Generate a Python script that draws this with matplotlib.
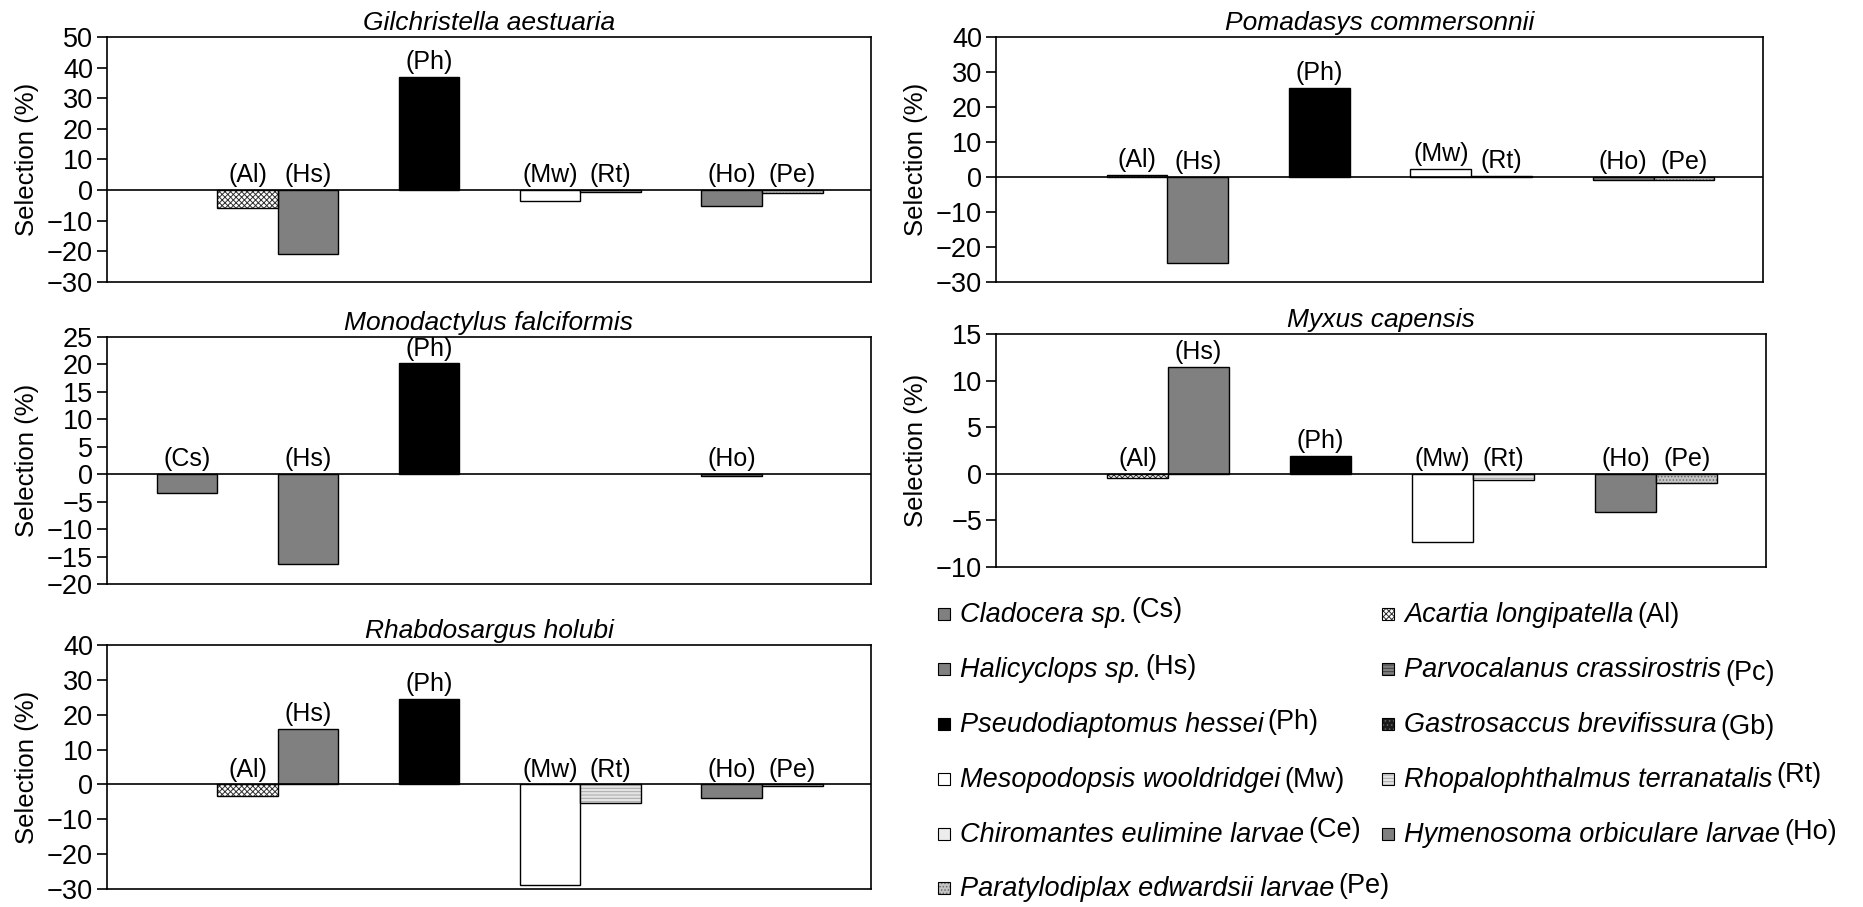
import numpy as np
import matplotlib
matplotlib.use("Agg")
import matplotlib.pyplot as plt
from matplotlib.patches import Rectangle

plt.rcParams["font.family"] = ["Liberation Sans", "DejaVu Sans"]
plt.rcParams["hatch.linewidth"] = 0.7

# ---- data -------------------------------------------------------------
codes = ["Cs", "Al", "Hs", "Pc", "Ph", "Gb", "Mw", "Rt", "Ce", "Ho", "Pe"]
species = [
    "Cladocera sp.", "Acartia longipatella", "Halicyclops sp.",
    "Parvocalanus crassirostris", "Pseudodiaptomus hessei",
    "Gastrosaccus brevifissura", "Mesopodopsis wooldridgei",
    "Rhopalophthalmus terranatalis", "Chiromantes eulimine larvae",
    "Hymenosoma orbiculare larvae", "Paratylodiplax edwardsii larvae",
]

nan = np.nan
gilchristella = [nan, -5.8, -20.7, nan, 37.1, nan, -3.7, -0.6, nan, -5.2, -1.1]
monodactylus = [-3.5, nan, -16.4, nan, 20.2, nan, nan, nan, nan, -0.3, nan]
rhabdosargus = [nan, -3.2, 16.0, nan, 24.6, nan, -28.8, -5.2, nan, -3.9, -0.4]
pomadasys = [nan, 0.5, -24.5, nan, 25.4, nan, 2.3, 0.4, nan, -1.0, -1.0]
myxus = [nan, -0.4, 11.5, nan, 1.9, nan, -7.3, -0.7, nan, -4.1, -1.0]

# ---- styling per prey item ----------------------------------------------
face = ["#808080", "white", "#808080", "#808080", "black", "#1a1a1a",
        "white", "#e4e4e4", "#ececec", "#808080", "#c4c4c4"]
hatch = [None, "xxxxxx", None, "-----", None, "....", None, "-----",
         None, None, "....."]
hatch_col = [None, "#303030", None, "#404040", None, "#606060", None,
             "#a8a8a8", None, None, "#6a6a6a"]

W, H = 1863, 907
fig = plt.figure(figsize=(W / 100, H / 100), dpi=100)


def px_axes(left, top, right, bottom):
    return fig.add_axes([left / W, 1 - bottom / H, (right - left) / W,
                         (bottom - top) / H])


def panel(box, title, values, ylim, step):
    ax = px_axes(*box)
    x = np.arange(len(codes))
    for i, v in enumerate(values):
        if np.isnan(v):
            continue
        if hatch[i]:
            ax.bar(x[i], v, width=1.0, color=face[i], hatch=hatch[i],
                   edgecolor=hatch_col[i], linewidth=0, zorder=2)
            ax.bar(x[i], v, width=1.0, facecolor="none", edgecolor="black",
                   linewidth=1.0, zorder=3)
        else:
            ax.bar(x[i], v, width=1.0, color=face[i], edgecolor="black",
                   linewidth=1.0, zorder=2)
        ax.annotate(f"({codes[i]})", xy=(x[i], max(v, 0)), xytext=(0, 2),
                    textcoords="offset points", ha="center", va="bottom",
                    fontsize=18)
    ax.axhline(0, color="black", linewidth=1.2, zorder=4)
    ax.set_xlim(-1.32, 11.3)
    ax.set_ylim(*ylim)
    ax.set_yticks(np.arange(ylim[0], ylim[1] + step / 2, step))
    ax.set_xticks([])
    ax.tick_params(axis="y", direction="out", length=7, width=1.2,
                   labelsize=19.5, pad=3)
    for s in ax.spines.values():
        s.set_linewidth(1.2)
    ax.set_title(title, fontsize=19, style="italic", pad=5)
    ax.set_ylabel("Selection (%)", fontsize=18.5)
    ax.yaxis.set_label_coords(-68 / (box[2] - box[0]), 0.5)
    return ax


panel((107, 37, 871, 282), "Gilchristella aestuaria", gilchristella, (-30, 50), 10)
panel((107, 337, 871, 584), "Monodactylus falciformis", monodactylus, (-20, 25), 5)
panel((107, 645, 871, 889), "Rhabdosargus holubi", rhabdosargus, (-30, 40), 10)
panel((996, 37, 1763, 282), "Pomadasys commersonnii", pomadasys, (-30, 40), 10)
panel((996, 334, 1766, 567), "Myxus capensis", myxus, (-10, 15), 5)

# ---- key: two columns, filled row by row ------------------------------
col_x = [938, 1382]
row_base = [622, 677, 732, 787, 842, 896]
abbr_shift = [5, 0, 3, -3, 3, -2, 0, 5, 5, 3, 3]
renderer = fig.canvas.get_renderer()
for i, (code, name) in enumerate(zip(codes, species)):
    r, c = divmod(i, 2)
    x0 = col_x[c]
    yb = row_base[r]
    box = dict(xy=(x0 / W, 1 - (yb - 2) / H), width=12 / W, height=12 / H,
               transform=fig.transFigure)
    if hatch[i]:
        fig.add_artist(Rectangle(**box, facecolor=face[i],
                                 edgecolor=hatch_col[i], linewidth=0,
                                 hatch=hatch[i], zorder=3))
        fig.add_artist(Rectangle(**box, facecolor="none", edgecolor="black",
                                 linewidth=0.8, zorder=4))
    else:
        fig.add_artist(Rectangle(**box, facecolor=face[i], edgecolor="black",
                                 linewidth=0.8, zorder=3))
    t = fig.text((x0 + 22) / W, 1 - yb / H, name, fontsize=19.5,
                 style="italic", ha="left", va="baseline")
    bb = t.get_window_extent(renderer=renderer)
    fig.text(bb.x1 / W + 4 / W, 1 - (yb - abbr_shift[i]) / H, f"({code})",
             fontsize=19.5, ha="left", va="baseline")

fig.savefig("out.png", dpi=100)
